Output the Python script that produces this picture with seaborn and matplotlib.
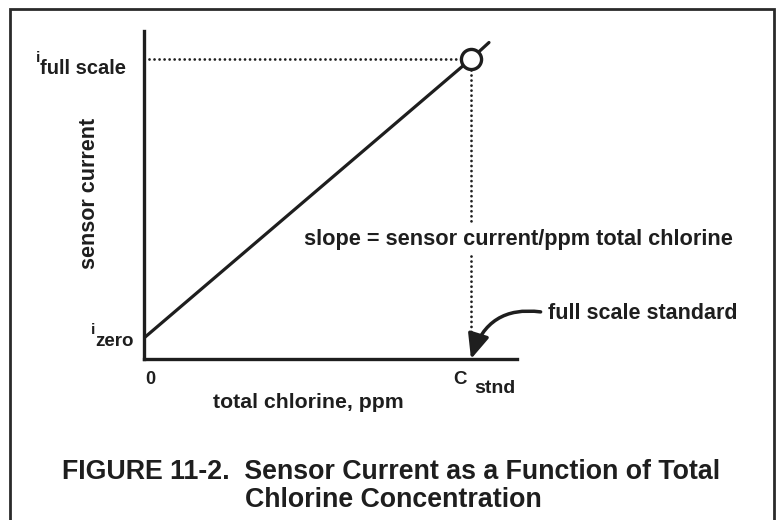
import matplotlib
matplotlib.use("Agg")
import matplotlib.pyplot as plt
from matplotlib.patches import Rectangle
import seaborn as sns
import pandas as pd

# Calibration line: sensor current vs. total chlorine (normalised units)
concentration = [0.0, 1.0, 1.055]
current = [0.07, 1.0, 1.055]
c_stnd = 1.0
i_full_scale = 1.0
i_zero = 0.07

x_labels = ["0", "C", "stnd"]
title_line1 = "FIGURE 11-2.  Sensor Current as a Function of Total"
title_line2 = "Chlorine Concentration"

sns.set_theme(style="white")
plt.rcParams["font.family"] = ["Liberation Sans", "DejaVu Sans"]
plt.rcParams["font.weight"] = "bold"

ink = "#1e1e1e"
fig = plt.figure(figsize=(7.76, 5.2), dpi=100)
fig.patch.set_facecolor("white")

# outer frame, open at the bottom edge of the page
fig.patches.append(Rectangle((10 / 776, -0.05), 764 / 776, 1.05 - 9 / 520,
                             transform=fig.transFigure, fill=False,
                             edgecolor="#2a2a2a", lw=2.0))

ax = fig.add_axes([144 / 776, 1 - 359 / 520, 373 / 776, 328 / 520])
ax.set_xlim(0, 373 / 327)
ax.set_ylim(0, 328 / 300)
for side in ("top", "right"):
    ax.spines[side].set_visible(False)
for side in ("left", "bottom"):
    ax.spines[side].set_linewidth(2.4)
    ax.spines[side].set_color(ink)
ax.set_xticks([])
ax.set_yticks([])

df = pd.DataFrame({"concentration": concentration, "current": current})
sns.lineplot(data=df, x="concentration", y="current", ax=ax, color=ink,
             lw=2.3, zorder=3)

dots = dict(color=ink, lw=2.0, linestyle=(0, (0.01, 1.8)),
            dash_capstyle="round", zorder=2)
ax.plot([0.015, c_stnd - 0.03], [i_full_scale, i_full_scale], **dots)
ax.plot([c_stnd, c_stnd], [i_full_scale - 0.035, 0.03], **dots)

pt = pd.DataFrame({"concentration": [c_stnd], "current": [i_full_scale]})
sns.scatterplot(data=pt, x="concentration", y="current", ax=ax, s=210,
                facecolor="white", edgecolor=ink, linewidth=2.4, zorder=4)
ax.set_xlabel("")
ax.set_ylabel("")

lab = dict(fontweight="bold", color=ink, clip_on=False)
ax.text(0.442, -0.134, "total chlorine, ppm", fontsize=15.3, ha="center",
        va="center", transform=ax.transAxes, **lab)
ax.text(-0.145, 0.506, "sensor current", fontsize=15.5, ha="center",
        va="center", rotation=90, transform=ax.transAxes, **lab)

ax.text(-0.33, 1.003, "i", fontsize=11, ha="left", va="center", **lab)
ax.text(-0.318, 0.97, "full scale", fontsize=14.5, ha="left", va="center", **lab)
ax.text(-0.162, 0.097, "i", fontsize=11, ha="left", va="center", **lab)
ax.text(-0.148, 0.057, "zero", fontsize=13.5, ha="left", va="center", **lab)
ax.text(0.018, -0.07, x_labels[0], fontsize=13, ha="center", va="center", **lab)
ax.text(0.966, -0.07, x_labels[1], fontsize=13.5, ha="center", va="center", **lab)
ax.text(1.01, -0.097, x_labels[2], fontsize=14, ha="left", va="center", **lab)

ax.text(0.49, 0.40, "slope = sensor current/ppm total chlorine", fontsize=15.7,
        ha="left", va="center", zorder=5,
        bbox=dict(facecolor="white", edgecolor="none", pad=4), **lab)

ax.annotate("full scale standard", xy=(c_stnd, 0.0),
            xytext=(1.2355, 0.153), textcoords="data",
            fontsize=15.5, fontweight="bold", color=ink,
            ha="left", va="center", annotation_clip=False,
            arrowprops=dict(arrowstyle="-|>,head_length=0.6,head_width=0.26",
                            connectionstyle="arc3,rad=0.45", color=ink,
                            lw=2.5, mutation_scale=25, shrinkA=3, shrinkB=0,
                            relpos=(0, 0.5)))

title_kw = dict(fontsize=19.3, fontweight="bold", color=ink, va="center",
                ha="left")
fig.text(62 / 776, 1 - 472 / 520, title_line1, **title_kw)
fig.text(245 / 776, 1 - 500 / 520, title_line2, **title_kw)

fig.savefig("out.png", dpi=100, facecolor="white")
